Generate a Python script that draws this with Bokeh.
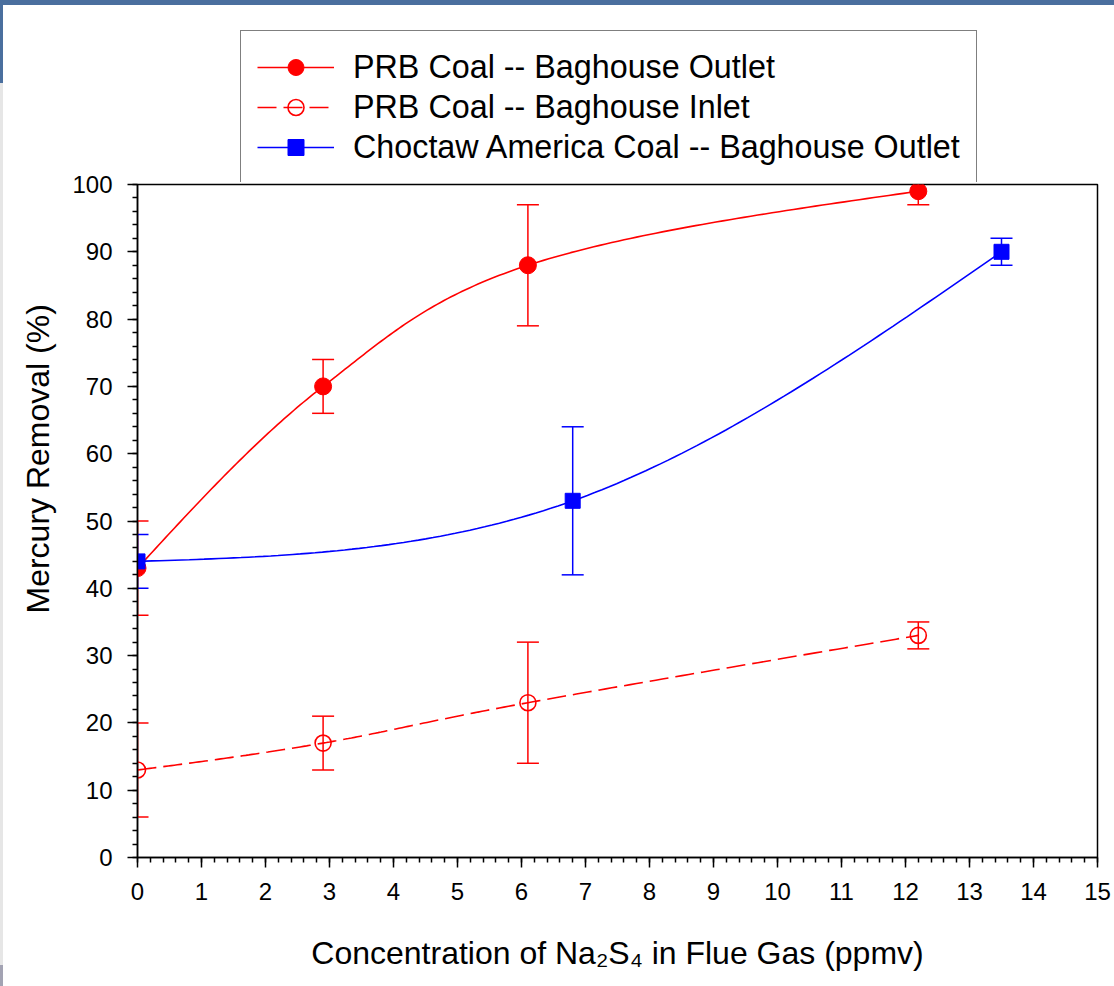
import numpy as np
from bokeh.plotting import figure
from bokeh.layouts import column, row
from bokeh.models import (ColumnDataSource, Whisker, TeeHead, Legend, LegendItem,
                          Range1d, SingleIntervalTicker, Title, Div)
from bokeh.embed import file_html
from bokeh.resources import INLINE

# ---------------- data ----------------
prb_out_x = [0, 2.9, 6.1, 12.2]
prb_out_y = [43, 70, 88, 99]
prb_out_lo = [36, 66, 79, 97]
prb_out_hi = [50, 74, 97, 101]

prb_in_x = [0, 2.9, 6.1, 12.2]
prb_in_y = [13, 17, 23, 33]
prb_in_lo = [6, 13, 14, 31]
prb_in_hi = [20, 21, 32, 35]

choc_x = [0, 6.8, 13.5]
choc_y = [44, 53, 90]
choc_lo = [40, 42, 88]
choc_hi = [48, 64, 92]

labels = ["PRB Coal -- Baghouse Outlet",
          "PRB Coal -- Baghouse Inlet",
          "Choctaw America Coal -- Baghouse Outlet"]
x_title = "Concentration of Na\u2082S\u2084 in Flue Gas (ppmv)"
y_title = "Mercury Removal (%)"

FONT = "Liberation Sans"
RED = "#ff0000"
BLUE = "#0000ff"

X_MAX, Y_MAX = 15, 100
FRAME_W, FRAME_H = 961, 673
OVERLAP = 13   # the plot canvas slides this far up under the legend strip


def spline_curve(xs, ys, n=60):
    """Smooth Catmull-Rom style curve through the measured points (in on-screen
    proportions), like the spline lines of the original graph."""
    P = np.column_stack([np.asarray(xs, float) / X_MAX * FRAME_W,
                         np.asarray(ys, float) / Y_MAX * FRAME_H])
    k = len(P)
    m = np.zeros_like(P)
    for i in range(1, k - 1):
        m[i] = (P[i + 1] - P[i - 1]) / 2
    m[0] = (3 * (P[1] - P[0]) - m[1]) / 2 if k > 2 else P[1] - P[0]
    m[-1] = (3 * (P[-1] - P[-2]) - m[-2]) / 2 if k > 2 else P[-1] - P[-2]
    t = np.linspace(0, 1, n)[:, None]
    h00 = 2 * t ** 3 - 3 * t ** 2 + 1
    h10 = t ** 3 - 2 * t ** 2 + t
    h01 = -2 * t ** 3 + 3 * t ** 2
    h11 = t ** 3 - t ** 2
    pts = np.vstack([h00 * P[i] + h10 * m[i] + h01 * P[i + 1] + h11 * m[i + 1]
                     for i in range(k - 1)])
    return pts[:, 0] / FRAME_W * X_MAX, pts[:, 1] / FRAME_H * Y_MAX


# ---------------- main plot ----------------
p = figure(width=1111, height=804 + OVERLAP, output_backend="svg", toolbar_location=None,
           x_range=Range1d(0, X_MAX), y_range=Range1d(0, Y_MAX),
           min_border_left=133, min_border_right=17, min_border_top=2 + OVERLAP,
           min_border_bottom=129, margin=(-OVERLAP, 0, 0, 0))

p.background_fill_color = "white"
p.border_fill_color = "white"
p.border_fill_alpha = 0
p.outline_line_color = "black"
p.outline_line_width = 1.5
p.xgrid.visible = False
p.ygrid.visible = False

p.xaxis.ticker = SingleIntervalTicker(interval=1, num_minor_ticks=5)
p.yaxis.ticker = SingleIntervalTicker(interval=10, num_minor_ticks=5)
for ax in (p.xaxis[0], p.yaxis[0]):
    ax.axis_line_color = "black"
    ax.axis_line_width = 1.5
    ax.major_tick_line_width = 1.5
    ax.minor_tick_line_width = 1.5
    ax.major_tick_in = 0
    ax.major_tick_out = 10
    ax.minor_tick_in = 0
    ax.minor_tick_out = 5
    ax.major_label_text_font = FONT
    ax.major_label_text_font_size = "24px"
    ax.major_label_text_color = "black"
    ax.axis_label_text_font = FONT
    ax.axis_label_text_font_size = "32px"
    ax.axis_label_text_font_style = "normal"
    ax.axis_label_text_color = "black"

p.xaxis.major_label_standoff = 15
p.yaxis.major_label_standoff = 15
p.xaxis.axis_label = x_title
p.xaxis.axis_label_standoff = 32

# y title: starts ~244 px above the frame bottom, as in the original
yt = Title(text=y_title, align="left", offset=244, standoff=28,
           text_font=FONT, text_font_size="32px", text_font_style="normal",
           text_color="black")
p.add_layout(yt, "left")


def add_errors(xs, lo, hi, color):
    src = ColumnDataSource(dict(x=xs, lower=lo, upper=hi))
    p.add_layout(Whisker(source=src, base="x", lower="lower", upper="upper", dimension="height",
                         line_color=color, line_width=1.5,
                         upper_head=TeeHead(size=22, line_color=color, line_width=1.5),
                         lower_head=TeeHead(size=22, line_color=color, line_width=1.5)))


STYLE_OUT_LINE = dict(line_color=RED, line_width=1.6)
STYLE_OUT_MARK = dict(marker="circle", size=17, fill_color=RED, line_color=RED)
STYLE_IN_LINE = dict(line_color=RED, line_width=1.6, line_dash="19 7")
STYLE_IN_MARK = dict(marker="circle", size=16, fill_color=None, line_color=RED, line_width=1.6)
STYLE_CH_LINE = dict(line_color=BLUE, line_width=1.6)
STYLE_CH_MARK = dict(marker="square", size=15, fill_color=BLUE, line_color=BLUE)

add_errors(prb_out_x, prb_out_lo, prb_out_hi, RED)
cx, cy = spline_curve(prb_out_x, prb_out_y)
p.line(cx, cy, **STYLE_OUT_LINE)
p.scatter(prb_out_x, prb_out_y, **STYLE_OUT_MARK)

add_errors(prb_in_x, prb_in_lo, prb_in_hi, RED)
cx, cy = spline_curve(prb_in_x, prb_in_y)
p.line(cx, cy, **STYLE_IN_LINE)
p.scatter(prb_in_x, prb_in_y, **STYLE_IN_MARK)

add_errors(choc_x, choc_lo, choc_hi, BLUE)
cx, cy = spline_curve(choc_x, choc_y)
p.line(cx, cy, **STYLE_CH_LINE)
p.scatter(choc_x, choc_y, **STYLE_CH_MARK)

# ---------------- legend strip (sits just above the plot frame) ----------------
lf = figure(width=1111, height=177, output_backend="svg", toolbar_location=None,
            x_range=Range1d(0, X_MAX), y_range=Range1d(1000, 1001),
            min_border_left=133, min_border_right=17, min_border_top=0, min_border_bottom=0)
lf.axis.visible = False
lf.grid.visible = False
lf.outline_line_color = None
lf.background_fill_color = "white"
lf.border_fill_color = "white"

# proxies for the legend keys (their data lie outside this strip's range, so only the keys show)
g1 = [lf.line(prb_out_x, prb_out_y, **STYLE_OUT_LINE), lf.scatter(prb_out_x, prb_out_y, **STYLE_OUT_MARK)]
g2 = [lf.line(prb_in_x, prb_in_y, **STYLE_IN_LINE), lf.scatter(prb_in_x, prb_in_y, **STYLE_IN_MARK)]
g3 = [lf.line(choc_x, choc_y, **STYLE_CH_LINE), lf.scatter(choc_x, choc_y, **STYLE_CH_MARK)]

legend = Legend(items=[LegendItem(label=labels[0], renderers=g1),
                       LegendItem(label=labels[1], renderers=g2),
                       LegendItem(label=labels[2], renderers=g3)],
                location=(103, -2))
legend.label_text_font = FONT
legend.label_text_font_size = "32.3px"
legend.label_text_color = "black"
legend.label_text_baseline = "middle"
legend.glyph_width = 77
legend.glyph_height = 40
legend.label_height = 40
legend.label_standoff = 19
legend.spacing = 0
legend.padding = 16
legend.margin = 0
legend.border_line_color = "black"
legend.border_line_width = 1.5
legend.background_fill_color = "white"
legend.background_fill_alpha = 1
lf.add_layout(legend, "center")

top_bar = Div(text="", width=1114, height=5, margin=0,
              styles={"background-color": "#4a6f9e"})
left_strip = Div(text="", width=3, height=981, margin=0,
                 styles={"background": "linear-gradient(to bottom, #4a6f9e 0px, #4a6f9e 78px, "
                                       "#e6e6e6 78px, #e6e6e6 960px, #a3a3b3 960px)"})
layout = column(top_bar, row(left_strip, column(lf, p, spacing=0), spacing=0), spacing=0)

open("out.html", "w").write(file_html(layout, INLINE))
